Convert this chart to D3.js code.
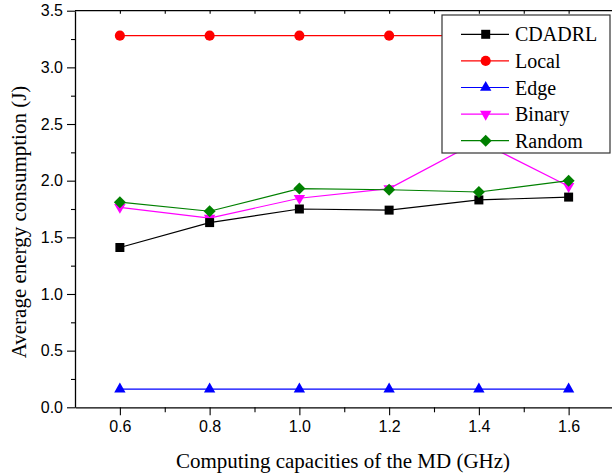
<!DOCTYPE html>
<html>
<head>
<script src="https://d3js.org/d3.v7.min.js"></script>
<style>
  body { margin: 0; background: #fff; }
  svg { display: block; }
  .tick-label { font-family: "Liberation Sans", Arial, sans-serif; font-size: 16px; }
  .title { font-family: "Liberation Serif", "Times New Roman", serif; font-size: 21px; }
  .legend text { font-family: "Liberation Serif", "Times New Roman", serif; font-size: 20px; }
</style>
</head>
<body>
<svg id="svg" width="612" height="476"></svg>
<script>
  const capacities = [0.6, 0.8, 1.0, 1.2, 1.4, 1.6];
  const cdadrl = [1.41, 1.63, 1.75, 1.74, 1.83, 1.855];
  const local = [3.28, 3.28, 3.28, 3.28, 3.28, 3.28];
  const edge = [0.16, 0.16, 0.16, 0.16, 0.16, 0.16];
  const binary = [1.765, 1.67, 1.845, 1.93, 2.35, 1.95];
  const random = [1.81, 1.73, 1.93, 1.92, 1.90, 2.00];
  const xTicks = [0.6, 0.8, 1.0, 1.2, 1.4, 1.6];
  const yTicks = [0.0, 0.5, 1.0, 1.5, 2.0, 2.5, 3.0, 3.5];

  const series = [
    { name: "CDADRL", values: cdadrl, color: "#000000", shape: "square" },
    { name: "Local", values: local, color: "#ff0000", shape: "circle" },
    { name: "Edge", values: edge, color: "#0000ff", shape: "up" },
    { name: "Binary", values: binary, color: "#ff00ff", shape: "down" },
    { name: "Random", values: random, color: "#008000", shape: "diamond" }
  ];
  const drawOrder = [3, 2, 1, 0, 4];

  const svg = d3.select("#svg");
  const x = d3.scaleLinear().domain([0.5, 1.7]).range([75, 613.5]);
  const y = d3.scaleLinear().domain([0, 3.5]).range([407.3, 10.7]);

  function symbolPath(shape) {
    if (shape === "square") return d3.symbol(d3.symbolSquare, 81)();
    if (shape === "circle") return d3.symbol(d3.symbolCircle, 80)();
    if (shape === "diamond") return d3.symbol(d3.symbolSquare, 72)();
    return d3.symbol(d3.symbolTriangle, 56)();
  }
  function symbolRotate(shape) {
    if (shape === "diamond") return 45;
    if (shape === "down") return 180;
    return 0;
  }

  // frame: top and right
  svg.append("line").attr("x1", x(0.5)).attr("x2", x(1.7)).attr("y1", y(3.5)).attr("y2", y(3.5))
    .attr("stroke", "#000").attr("stroke-width", 1.3);
  svg.append("line").attr("x1", x(1.7)).attr("x2", x(1.7)).attr("y1", y(0)).attr("y2", y(3.5))
    .attr("stroke", "#000").attr("stroke-width", 1.3);

  // x axis
  const xAxis = svg.append("g").attr("transform", `translate(0,${y(0)})`)
    .call(d3.axisBottom(x).tickValues(xTicks).tickFormat(d3.format(".1f")).tickSize(8).tickSizeOuter(0).tickPadding(5));
  svg.append("g").attr("transform", `translate(0,${y(0)})`)
    .call(d3.axisBottom(x).tickValues([0.7, 0.9, 1.1, 1.3, 1.5]).tickFormat("").tickSize(5).tickSizeOuter(0))
    .select(".domain").remove();
  // top axis inward ticks
  svg.append("g").attr("transform", `translate(0,${y(3.5)})`)
    .call(d3.axisBottom(x).tickValues(d3.range(0.6, 1.65, 0.1)).tickFormat("").tickSize(3).tickSizeOuter(0))
    .select(".domain").remove();

  // y axis
  const yAxis = svg.append("g").attr("transform", `translate(${x(0.5)},0)`)
    .call(d3.axisLeft(y).tickValues(yTicks).tickFormat(d3.format(".1f")).tickSize(8).tickSizeOuter(0).tickPadding(4));
  svg.append("g").attr("transform", `translate(${x(0.5)},0)`)
    .call(d3.axisLeft(y).tickValues([0.25, 0.75, 1.25, 1.75, 2.25, 2.75, 3.25]).tickFormat("").tickSize(4).tickSizeOuter(0))
    .select(".domain").remove();

  svg.selectAll(".domain").attr("stroke-width", 1.3);
  svg.selectAll(".tick line").attr("stroke-width", 1.1);
  svg.selectAll(".tick text").attr("class", "tick-label").attr("font-size", null).attr("font-family", null).attr("fill", "#000");
  xAxis.selectAll(".tick text").attr("dy", "0.71em");

  // titles
  svg.append("text").attr("class", "title")
    .attr("x", 343).attr("y", 468).attr("text-anchor", "middle")
    .text("Computing capacities of the MD (GHz)");
  svg.append("text").attr("class", "title")
    .attr("transform", "translate(26,222) rotate(-90)").attr("text-anchor", "middle")
    .text("Average energy consumption (J)");

  // series
  const line = d3.line().x((d, i) => x(capacities[i])).y(d => y(d));
  drawOrder.forEach(k => {
    const s = series[k];
    const g = svg.append("g");
    g.append("path").attr("d", line(s.values)).attr("fill", "none")
      .attr("stroke", s.color).attr("stroke-width", 1.2);
    g.selectAll("path.m").data(s.values).join("path").attr("class", "m")
      .attr("d", symbolPath(s.shape))
      .attr("transform", (d, i) => `translate(${x(capacities[i])},${y(d)}) rotate(${symbolRotate(s.shape)})`)
      .attr("fill", s.color);
  });

  // legend
  const legend = svg.append("g").attr("class", "legend");
  legend.append("rect").attr("x", 442).attr("y", 15).attr("width", 168).attr("height", 138)
    .attr("fill", "#fff").attr("stroke", "#333").attr("stroke-width", 1.2);
  series.forEach((s, i) => {
    const ry = 34.3 + i * 26.6;
    legend.append("line").attr("x1", 461).attr("x2", 509).attr("y1", ry).attr("y2", ry)
      .attr("stroke", s.color).attr("stroke-width", 1.2);
    legend.append("path").attr("d", symbolPath(s.shape))
      .attr("transform", `translate(485.7,${ry}) rotate(${symbolRotate(s.shape)})`)
      .attr("fill", s.color);
    legend.append("text").attr("x", 515).attr("y", ry + 7).text(s.name);
  });
</script>
</body>
</html>
